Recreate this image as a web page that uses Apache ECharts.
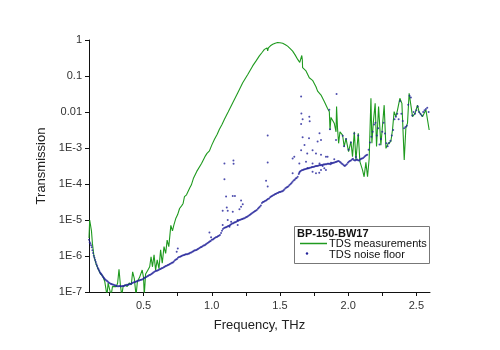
<!DOCTYPE html>
<html>
<head>
<meta charset="utf-8">
<script src="https://cdn.jsdelivr.net/npm/echarts@6/dist/echarts.min.js"></script>
<style>html,body{margin:0;padding:0;background:#fff;}#c{width:500px;height:350px;}</style>
</head>
<body>
<div id="c"></div>
<script>
// Frequency (THz) and log10(Transmission)
const measured = [
[0.100,-5.5],[0.105,-5.0],[0.112,-5.0],[0.118,-5.3],[0.125,-5.65],[0.136,-6.0],[0.150,-6.2],[0.165,-6.35],
[0.185,-6.5],[0.200,-6.55],[0.215,-6.7],[0.225,-6.75],[0.232,-7.1],[0.240,-6.75],[0.250,-6.8],[0.262,-7.1],
[0.272,-6.85],[0.285,-6.85],[0.300,-6.85],[0.310,-6.75],[0.320,-6.37],[0.330,-6.8],[0.340,-7.1],[0.350,-6.85],
[0.365,-6.8],[0.380,-6.85],[0.395,-6.75],[0.410,-6.8],[0.420,-6.44],[0.432,-6.62],[0.445,-7.1],[0.455,-6.7],
[0.470,-6.6],[0.490,-6.39],[0.500,-6.6],[0.505,-7.1],[0.515,-6.5],[0.530,-6.4],[0.545,-6.3],[0.555,-6.02],
[0.565,-6.30],[0.577,-5.97],[0.588,-6.39],[0.600,-6.11],[0.613,-6.35],[0.625,-5.83],[0.637,-6.2],[0.650,-5.74],
[0.662,-5.93],[0.673,-5.56],[0.685,-5.74],[0.700,-5.15],[0.712,-5.3],[0.722,-5.14],[0.737,-4.95],[0.750,-4.85],
[0.764,-4.68],[0.780,-4.6],[0.790,-4.54],[0.800,-4.35],[0.815,-4.3],[0.825,-4.26],[0.840,-4.1],[0.850,-4.03],
[0.865,-3.85],[0.875,-3.80],[0.890,-3.65],[0.900,-3.61],[0.925,-3.43],[0.950,-3.24],[0.965,-3.15],[0.983,-3.08],
[1.000,-2.92],[1.020,-2.76],[1.040,-2.62],[1.056,-2.48],[1.075,-2.35],[1.093,-2.20],[1.120,-2.0],[1.154,-1.74],
[1.190,-1.47],[1.227,-1.19],[1.265,-0.95],[1.300,-0.72],[1.325,-0.58],[1.349,-0.44],[1.370,-0.34],[1.386,-0.26],
[1.405,-0.22],[1.410,-0.30],[1.415,-0.22],[1.430,-0.16],[1.447,-0.12],[1.465,-0.09],[1.483,-0.07],[1.500,-0.075],
[1.520,-0.09],[1.540,-0.13],[1.556,-0.17],[1.575,-0.24],[1.593,-0.31],[1.612,-0.42],[1.630,-0.54],[1.645,-0.62],
[1.655,-0.67],[1.660,-0.43],[1.664,-0.55],[1.666,-0.77],[1.680,-0.80],[1.691,-0.86],[1.700,-0.9],[1.715,-1.05],
[1.739,-1.12],[1.764,-1.3],[1.776,-1.42],[1.801,-1.53],[1.825,-1.71],[1.849,-1.90],[1.862,-1.99],[1.867,-2.5],
[1.874,-2.15],[1.885,-2.2],[1.898,-2.31],[1.911,-2.55],[1.915,-1.85],[1.922,-2.45],[1.930,-2.87],[1.940,-2.55],
[1.959,-2.64],[1.971,-2.96],[1.984,-2.73],[2.003,-3.10],[2.020,-2.82],[2.032,-3.24],[2.045,-2.55],[2.057,-3.33],
[2.074,-2.59],[2.086,-3.38],[2.105,-3.61],[2.117,-3.80],[2.130,-3.40],[2.142,-3.80],[2.154,-3.3],[2.167,-1.62],
[2.174,-2.87],[2.184,-2.31],[2.198,-1.76],[2.208,-2.96],[2.223,-1.85],[2.240,-2.92],[2.264,-1.81],[2.277,-3.01],
[2.294,-2.87],[2.313,-2.82],[2.325,-2.5],[2.337,-1.99],[2.350,-2.13],[2.362,-1.94],[2.379,-1.62],[2.394,-1.76],
[2.411,-3.33],[2.423,-2.45],[2.435,-2.31],[2.447,-1.48],[2.460,-1.43],[2.472,-2.13],[2.491,-2.03],[2.508,-1.81],
[2.520,-2.0],[2.545,-2.13],[2.570,-1.94],[2.581,-1.9],[2.594,-2.5]
];
const noiseFloor = [
[0.100,-5.55],[0.105,-5.62],[0.110,-5.65],[0.115,-5.7],[0.120,-5.76],[0.125,-5.84],[0.130,-5.92],[0.135,-5.99],[0.140,-6.05],
[0.145,-6.11],[0.150,-6.17],[0.155,-6.23],[0.160,-6.28],[0.165,-6.33],[0.170,-6.37],[0.175,-6.41],[0.180,-6.45],[0.185,-6.48],
[0.190,-6.50],[0.195,-6.53],[0.200,-6.56],[0.205,-6.59],[0.210,-6.61],[0.215,-6.64],[0.220,-6.66],[0.228,-6.68],[0.235,-6.70],
[0.242,-6.73],[0.250,-6.75],[0.258,-6.77],[0.265,-6.78],[0.272,-6.79],[0.280,-6.80],[0.288,-6.81],[0.295,-6.82],[0.302,-6.83],
[0.310,-6.84],[0.318,-6.84],[0.325,-6.83],[0.332,-6.84],[0.340,-6.84],[0.348,-6.83],[0.355,-6.83],[0.362,-6.82],[0.370,-6.81],
[0.378,-6.80],[0.385,-6.80],[0.392,-6.79],[0.400,-6.78],[0.408,-6.77],[0.415,-6.76],[0.422,-6.74],[0.430,-6.73],[0.438,-6.72],
[0.445,-6.71],[0.452,-6.70],[0.460,-6.69],[0.468,-6.68],[0.475,-6.67],[0.482,-6.66],[0.490,-6.65],[0.498,-6.63],[0.505,-6.61],
[0.512,-6.60],[0.520,-6.58],[0.528,-6.56],[0.535,-6.55],[0.542,-6.53],[0.550,-6.52],[0.558,-6.50],[0.565,-6.48],[0.572,-6.46],
[0.580,-6.44],[0.588,-6.42],[0.595,-6.41],[0.602,-6.40],[0.610,-6.39],[0.618,-6.37],[0.625,-6.36],[0.632,-6.34],[0.640,-6.33],
[0.648,-6.31],[0.655,-6.30],[0.662,-6.28],[0.670,-6.27],[0.678,-6.25],[0.685,-6.24],[0.692,-6.22],[0.700,-6.21],[0.708,-6.19],
[0.715,-6.18],[0.722,-6.15],[0.730,-6.12],[0.738,-6.10],[0.745,-6.08],[0.752,-6.05],[0.760,-6.03],[0.768,-6.02],[0.775,-6.01],
[0.782,-5.99],[0.790,-5.98],[0.798,-5.97],[0.805,-5.96],[0.812,-5.95],[0.820,-5.95],[0.828,-5.94],[0.835,-5.93],[0.842,-5.91],
[0.850,-5.90],[0.858,-5.88],[0.865,-5.87],[0.872,-5.85],[0.880,-5.84],[0.888,-5.83],[0.895,-5.81],[0.902,-5.80],[0.910,-5.78],
[0.918,-5.76],[0.925,-5.75],[0.932,-5.73],[0.940,-5.71],[0.948,-5.70],[0.955,-5.68],[0.962,-5.66],[0.970,-5.64],[0.978,-5.62],
[0.985,-5.60],[0.992,-5.58],[1.000,-5.55],[1.008,-5.54],[1.015,-5.52],[1.022,-5.50],[1.030,-5.48],[1.038,-5.47],[1.045,-5.45],
[1.052,-5.44],[1.060,-5.42],[1.068,-5.36],[1.075,-5.30],[1.082,-5.25],[1.090,-5.22],[1.098,-5.21],[1.105,-5.20],[1.112,-5.19],
[1.120,-5.17],[1.128,-5.16],[1.135,-5.14],[1.142,-5.12],[1.150,-5.10],[1.158,-5.09],[1.165,-5.07],[1.172,-5.06],[1.180,-5.05],
[1.188,-5.03],[1.195,-5.02],[1.202,-5.00],[1.210,-4.99],[1.218,-4.98],[1.225,-4.97],[1.232,-4.96],[1.240,-4.95],[1.248,-4.93],
[1.255,-4.92],[1.262,-4.90],[1.270,-4.88],[1.278,-4.86],[1.285,-4.84],[1.292,-4.82],[1.300,-4.80],[1.308,-4.78],[1.315,-4.76],
[1.322,-4.74],[1.330,-4.72],[1.338,-4.69],[1.345,-4.66],[1.352,-4.63],[1.360,-4.60],[1.368,-4.53],[1.375,-4.50],[1.382,-4.49],
[1.390,-4.47],[1.398,-4.46],[1.405,-4.44],[1.412,-4.42],[1.420,-4.40],[1.428,-4.37],[1.435,-4.35],[1.442,-4.33],[1.450,-4.31],
[1.458,-4.30],[1.465,-4.28],[1.472,-4.27],[1.480,-4.25],[1.488,-4.24],[1.495,-4.22],[1.502,-4.22],[1.510,-4.21],[1.518,-4.20],
[1.525,-4.18],[1.532,-4.15],[1.540,-4.12],[1.548,-4.10],[1.555,-4.08],[1.562,-4.06],[1.570,-4.03],[1.578,-4.00],[1.585,-3.97],
[1.592,-3.94],[1.600,-3.90],[1.608,-3.88],[1.615,-3.85],[1.622,-3.83],[1.630,-3.80],[1.638,-3.72],[1.645,-3.66],[1.652,-3.64],
[1.660,-3.62],[1.668,-3.61],[1.675,-3.60],[1.682,-3.59],[1.690,-3.58],[1.698,-3.57],[1.705,-3.56],[1.712,-3.56],[1.720,-3.55],
[1.728,-3.54],[1.735,-3.53],[1.742,-3.53],[1.750,-3.52],[1.758,-3.51],[1.765,-3.50],[1.772,-3.50],[1.780,-3.49],[1.788,-3.48],
[1.795,-3.48],[1.802,-3.47],[1.810,-3.47],[1.818,-3.46],[1.825,-3.46],[1.832,-3.45],[1.840,-3.45],[1.848,-3.44],[1.855,-3.44],
[1.862,-3.44],[1.870,-3.45],[1.878,-3.43],[1.885,-3.42],[1.892,-3.41],[1.900,-3.40],[1.908,-3.39],[1.915,-3.38],[1.922,-3.37],
[1.930,-3.36],[1.938,-3.38],[1.945,-3.40],[1.952,-3.43],[1.960,-3.45],[1.968,-3.48],[1.975,-3.50],[1.982,-3.48],[1.990,-3.45],
[1.998,-3.41],[2.005,-3.38],[2.012,-3.36],[2.020,-3.35],[2.028,-3.32],[2.035,-3.30],[2.042,-3.33],[2.050,-3.35],[2.058,-3.33],
[2.065,-3.32],[2.072,-3.34],[2.080,-3.35],[2.088,-3.32],[2.095,-3.30],[2.102,-3.29],[2.110,-3.28],[2.118,-3.25],[2.125,-3.22],
[2.132,-3.20],[2.140,-3.19],[2.150,-3.05],[2.160,-2.85],[2.170,-2.69],[2.180,-2.55],[2.190,-2.35],[2.200,-2.30],[2.210,-2.65],
[2.220,-2.45],[2.230,-2.90],[2.240,-2.75],[2.250,-2.55],[2.260,-2.30],[2.270,-2.60],[2.280,-2.87],[2.290,-2.95],[2.300,-2.87],
[2.310,-2.80],[2.320,-2.65],[2.330,-2.50],[2.340,-2.20],[2.350,-2.13],[2.360,-2.05],[2.370,-2.20],[2.380,-1.70],[2.390,-2.05],
[2.400,-2.25],[2.410,-2.45],[2.420,-2.42],[2.430,-2.38],[2.440,-1.80],[2.450,-1.55],[2.460,-1.60],[2.470,-2.10],[2.480,-2.00],
[2.490,-2.05],[2.500,-1.95],[2.510,-1.85],[2.520,-2.00],[2.530,-2.05],[2.540,-2.10],[2.550,-2.00],[2.560,-1.95],[2.570,-1.92],
[2.580,-1.88],[2.590,-2.00]
];
const noiseOutliers = [
[0.751,-5.79],[0.743,-5.88],[0.983,-5.35],[0.995,-5.48],
[1.093,-3.43],[1.159,-3.35],[1.160,-3.44],[1.093,-3.87],[1.105,-4.35],[1.154,-4.33],[1.170,-4.33],[1.215,-4.46],
[1.227,-4.56],[1.110,-4.65],[1.080,-4.74],[1.117,-4.74],[1.154,-4.77],[1.203,-4.70],[1.215,-4.63],[1.117,-5.0],
[1.142,-5.05],[1.190,-5.0],[1.130,-5.19],[1.190,-5.14],[1.080,-5.14],
[1.410,-2.65],[1.410,-3.40],[1.398,-3.91],[1.410,-4.07],
[1.655,-1.57],[1.657,-2.04],[1.666,-2.20],[1.655,-2.33],[1.666,-2.70],[1.715,-2.13],[1.718,-2.26],[1.713,-2.73],
[1.790,-2.59],[1.801,-2.78],[1.680,-2.92],[1.655,-3.06],[1.700,-3.15],[1.593,-3.29],[1.605,-3.24],[1.642,-3.43],
[1.691,-3.38],[1.739,-3.43],[1.790,-3.43],[1.764,-3.15],[1.801,-3.19],[1.837,-3.24],[1.739,-3.66],[1.764,-3.70],
[1.801,-3.61],[1.825,-3.56],[1.593,-3.70],[1.642,-3.69],[1.703,-3.56],
[1.915,-1.50],[1.862,-1.94],[1.867,-2.48],[1.776,-2.82],[1.911,-2.78],[1.739,-3.06],[1.813,-3.50],[1.849,-3.24],
[1.837,-3.61],[1.788,-3.69],[1.874,-3.41],[1.898,-3.31],
[1.960,-2.66],[1.970,-2.95],[1.985,-2.75],[2.020,-2.85],[2.045,-2.60],[2.074,-2.65],[2.003,-3.05],[2.057,-3.25]
];
const xTicks = [0.25,0.5,0.75,1.0,1.25,1.5,1.75,2.0,2.25,2.5];
const xLabels = [0.5,1.0,1.5,2.0,2.5];
const seriesNames = ['TDS measurements','TDS noise floor'];
const legendTitle = 'BP-150-BW17';

const toPts = arr => arr.map(p => [p[0], Math.pow(10, p[1])]);
const GREEN = '#1f9a1f', BLUE = '#22229a';
const FONT = 'Liberation Sans, Arial, sans-serif';

const chart = echarts.init(document.getElementById('c'), null, {renderer:'canvas'});
chart.setOption({
  animation:false,
  backgroundColor:'#fff',
  grid:{left:89,right:70,top:40,bottom:58},
  xAxis:{
    type:'value', min:0.1, max:2.6,
    name:'Frequency, THz', nameLocation:'middle', nameGap:27,
    nameTextStyle:{fontSize:13,color:'#222',fontFamily:FONT},
    axisLine:{lineStyle:{color:'#111',width:1}},
    axisTick:{show:true,inside:false,length:4,customValues:xTicks,lineStyle:{color:'#111'}},
    axisLabel:{customValues:xLabels,fontSize:11,color:'#333',fontFamily:FONT,margin:8,
      formatter:v=>v.toFixed(1)},
    splitLine:{show:false}
  },
  yAxis:{
    type:'log', logBase:10, min:1e-7, max:1,
    name:'Transmission', nameLocation:'middle', nameGap:36,
    nameTextStyle:{fontSize:13,color:'#222',fontFamily:FONT},
    axisLine:{show:true,lineStyle:{color:'#111',width:1}},
    axisTick:{show:true,inside:false,length:4,lineStyle:{color:'#111'}},
    axisLabel:{fontSize:11,color:'#333',fontFamily:FONT,margin:7,
      formatter:v=>{const e=Math.round(Math.log10(v)); return e>=-2 ? String(Math.pow(10,e).toFixed(-e)) : '1E'+e;}},
    splitLine:{show:false}, minorTick:{show:false}
  },
  series:[
    {name:seriesNames[0], type:'line', data:toPts(measured), showSymbol:false, symbol:'none',
     lineStyle:{color:GREEN,width:1.1}, clip:true, z:2},
    {name:seriesNames[1], type:'scatter', data:toPts(noiseFloor).concat(toPts(noiseOutliers)),
     symbol:'circle', symbolSize:2, itemStyle:{color:BLUE}, clip:true, z:3}
  ],
  graphic:[
    {type:'rect', shape:{x:294.5,y:226.5,width:135,height:37}, style:{fill:'#fff',stroke:'#777',lineWidth:1}, z:10},
    {type:'text', x:297, y:228, style:{text:legendTitle,fontSize:11,fontWeight:'bold',fill:'#111',fontFamily:FONT}, z:11},
    {type:'line', shape:{x1:300,y1:243.5,x2:327,y2:243.5}, style:{stroke:GREEN,lineWidth:1.5}, z:11},
    {type:'text', x:329, y:238, style:{text:seriesNames[0],fontSize:11,fill:'#111',fontFamily:FONT}, z:11},
    {type:'circle', shape:{cx:307,cy:253.5,r:1.2}, style:{fill:BLUE}, z:11},
    {type:'text', x:329, y:249, style:{text:seriesNames[1],fontSize:11,fill:'#111',fontFamily:FONT}, z:11}
  ]
});
</script>
</body>
</html>
